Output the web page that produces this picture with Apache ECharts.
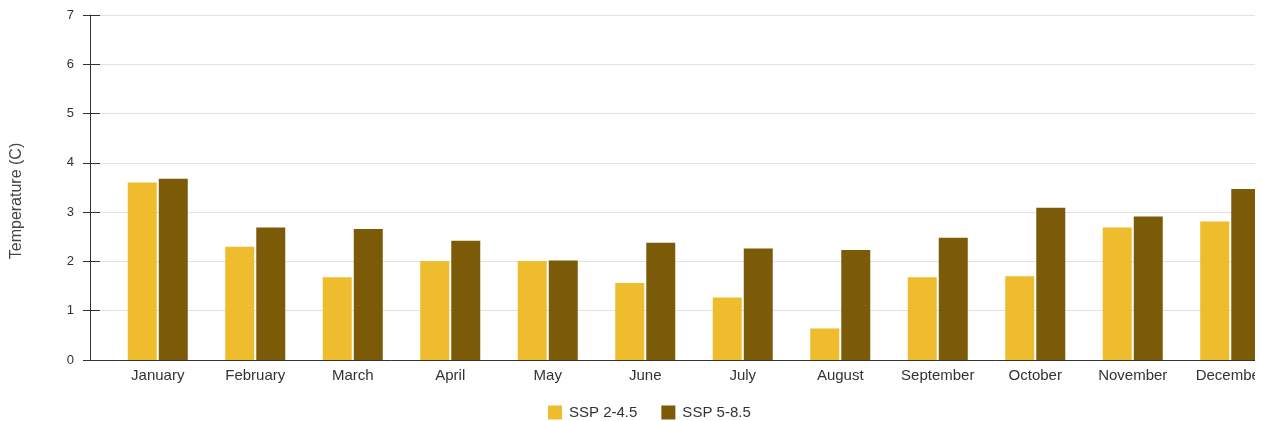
<!DOCTYPE html>
<html>
<head>
<meta charset="utf-8">
<script src="https://cdn.jsdelivr.net/npm/echarts@6/dist/echarts.min.js"></script>
<style>
html,body{margin:0;padding:0;background:#fff;overflow:hidden;}
#clip{width:1255px;height:421px;overflow:hidden;}
#chart{width:1300px;height:421px;}
</style>
</head>
<body>
<div id="clip"><div id="chart"></div></div>
<script>
const months = ['January','February','March','April','May','June','July','August','September','October','November','December'];
const ssp245 = [3.6, 2.3, 1.68, 2.01, 2.01, 1.56, 1.27, 0.64, 1.68, 1.7, 2.69, 2.81];
const ssp585 = [3.68, 2.69, 2.66, 2.42, 2.02, 2.38, 2.26, 2.23, 2.48, 3.09, 2.91, 3.47];
const yTicks = [0, 1, 2, 3, 4, 5, 6, 7];
const seriesNames = ['SSP 2-4.5', 'SSP 5-8.5'];
const yTitle = 'Temperature (C)';

const FONT = 'Liberation Sans, Arial, sans-serif';
const chart = echarts.init(document.getElementById('chart'));
chart.setOption({
  animation: false,
  backgroundColor: '#fff',
  color: ['#EEBC2C', '#7C5B08'],
  textStyle: { fontFamily: FONT },
  grid: [
    { left: 90, right: 2, top: 15, bottom: 61 },
    { left: 109, right: 21, top: 15, bottom: 61 }
  ],
  legend: {
    data: seriesNames,
    left: 543, top: 400,
    icon: 'rect', itemWidth: 14, itemHeight: 14, itemGap: 24,
    textStyle: { fontSize: 15, color: '#333', fontFamily: FONT, padding: [0, 0, 0, 2] }
  },
  graphic: [{
    type: 'text', x: 17, y: 201, rotation: Math.PI / 2,
    style: { text: yTitle, fill: '#444', font: '16px ' + FONT, align: 'center', verticalAlign: 'middle' }
  }],
  xAxis: [
    { gridIndex: 0, type: 'value', min: 0, max: 1, axisLabel: { show: false }, axisTick: { show: false },
      splitLine: { show: false }, axisLine: { show: true, lineStyle: { color: '#333', width: 1 } } },
    { gridIndex: 1, type: 'category', data: months, axisTick: { show: false }, axisLine: { show: false },
      axisLabel: { margin: 8, fontSize: 15, color: '#333', fontFamily: FONT, interval: 0 } }
  ],
  yAxis: [
    { gridIndex: 0, type: 'value', min: yTicks[0], max: yTicks[yTicks.length - 1], interval: 1,
      axisLine: { show: true, lineStyle: { color: '#333', width: 1 } },
      axisTick: { show: true, length: 7, lineStyle: { color: '#333' } },
      axisLabel: { margin: 16, fontSize: 13, color: '#333', fontFamily: FONT },
      splitLine: { show: true, lineStyle: { color: '#e2e2e2', width: 1 } } },
    { gridIndex: 0, type: 'value', min: yTicks[0], max: yTicks[yTicks.length - 1], interval: 1,
      position: 'left', axisLine: { show: false }, axisLabel: { show: false }, splitLine: { show: false },
      axisTick: { show: true, inside: true, length: 10, lineStyle: { color: '#333' } } },
    { gridIndex: 1, type: 'value', min: yTicks[0], max: yTicks[yTicks.length - 1], interval: 1,
      show: false, splitLine: { show: false } }
  ],
  series: [
    { name: seriesNames[0], type: 'bar', xAxisIndex: 1, yAxisIndex: 2, data: ssp245, barWidth: 29, barGap: '7%' },
    { name: seriesNames[1], type: 'bar', xAxisIndex: 1, yAxisIndex: 2, data: ssp585, barWidth: 29, barGap: '7%' }
  ]
});
</script>
</body>
</html>
